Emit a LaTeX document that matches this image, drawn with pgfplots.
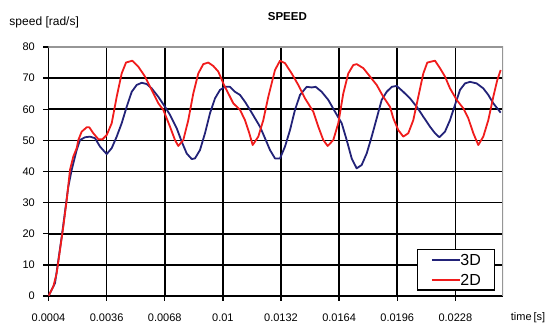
\documentclass[border=0pt]{standalone}
\usepackage{pgfplots}
\pgfplotsset{compat=1.18}
\usepackage{pgfplotstable}
\usepackage{fontspec}
\setmainfont{Liberation Sans}
\definecolor{series3d}{RGB}{34,34,120}
\definecolor{series2d}{RGB}{240,28,28}
\definecolor{framegray}{RGB}{150,150,150}

\pgfplotstableread{
t v
0.0004 0
0.000758 4.1
0.001127 19
0.00149 35.1
0.001677 40.5
0.001859 44.8
0.001953 46.9
0.002134 50.1
0.00241 51
0.002685 51.2
0.00296 50.7
0.003236 48
0.003604 45.6
0.00388 47.5
0.004155 51.2
0.00443 55.5
0.004706 60.8
0.004981 65.6
0.005256 67.8
0.005532 68.5
0.005807 68.1
0.006082 66.7
0.006446 64
0.006814 60.8
0.00709 58.2
0.007459 53.9
0.007734 49.6
0.008009 45.8
0.008285 44
0.008466 44.2
0.008742 46.9
0.009017 52.3
0.009292 58.7
0.009568 63.5
0.009843 66.2
0.010118 67.2
0.010393 67.2
0.010669 65.6
0.010944 64.6
0.011219 62.4
0.011495 59.8
0.01177 57.1
0.012045 54.4
0.01232 50.7
0.012596 46.9
0.012871 44.2
0.013146 44.2
0.013422 48
0.013697 53.3
0.013972 59.8
0.014248 64.6
0.014616 67.2
0.014892 67
0.015112 67.2
0.015442 65.6
0.015806 63
0.016175 59.2
0.016544 55.5
0.016819 50.1
0.017094 44.2
0.017369 41
0.017645 42.1
0.01792 45.8
0.018195 51.2
0.018471 57.1
0.018746 63
0.019021 65.6
0.019297 67.2
0.019572 67.5
0.019935 65.6
0.020304 63.5
0.020673 60.8
0.021037 57.6
0.021405 54.4
0.021681 52.3
0.021918 51
0.022231 52.8
0.022507 56.5
0.022782 61.4
0.023057 66.2
0.023332 68.3
0.023608 68.8
0.023977 68.3
0.02434 66.7
0.024616 64.6
0.024891 61.9
0.025298 58.9
}\threeD

\pgfplotstableread{
t v
0.0004 0
0.000664 3
0.000851 7.3
0.001033 14.8
0.001215 22.3
0.001402 30.8
0.001584 40.5
0.001765 44.8
0.001953 47.5
0.002041 50.1
0.002228 52.8
0.002503 54.2
0.002646 54.2
0.002867 52.3
0.003142 50.4
0.003362 50.3
0.003604 51.7
0.00388 55.5
0.004155 64
0.00443 71.5
0.004667 75
0.005014 75.6
0.005344 73.7
0.005713 70.5
0.006082 66.2
0.006446 61.9
0.006721 59.8
0.00709 54.4
0.007365 50.1
0.007547 48.2
0.007822 50.1
0.008097 56.5
0.008373 65.1
0.008648 71.5
0.008923 74.5
0.009199 75
0.009474 73.9
0.009749 72.1
0.010025 68.3
0.0103 65.1
0.010575 61.9
0.010944 59.8
0.011219 56.5
0.011456 52.3
0.011643 48.5
0.011952 51.2
0.012227 56.5
0.012502 64
0.012871 72.6
0.013146 75.6
0.013422 74.8
0.013791 71.5
0.014154 67.8
0.014523 63.5
0.01498 59.2
0.015255 54.4
0.015531 50.1
0.015773 48.2
0.016081 50.1
0.016356 55.5
0.016632 65.1
0.016907 71.5
0.017182 74.2
0.017369 74.5
0.017733 73.2
0.018102 70.5
0.018471 67.8
0.018834 64
0.019203 60.8
0.019385 57.1
0.01966 53.3
0.019935 51.2
0.020211 52.3
0.020486 56.5
0.020761 64
0.021037 71.5
0.021257 75
0.021681 75.6
0.021956 73.2
0.022231 70.5
0.022507 66.7
0.022875 63
0.023239 60.3
0.023514 57.1
0.02379 52.3
0.024065 48.5
0.02434 51.2
0.024616 56.5
0.024891 64
0.025111 69.4
0.025298 72.6
}\twoD

\begin{document}
\begin{tikzpicture}
\useasboundingbox (-48.5pt,-27pt) rectangle (503.5pt,296pt);
\begin{axis}[
  name=ax,
  at={(0pt,0pt)}, anchor=south west,
  scale only axis,
  width=454.5pt, height=249pt,
  xmin=0.0004, xmax=0.025425,
  ymin=0, ymax=80,
  axis x line*=bottom, axis y line*=left,
  x axis line style={-, black, line width=1.4pt},
  y axis line style={-, black, line width=1.4pt},
  xtick={0.0004,0.0036,0.0068,0.01,0.0132,0.0164,0.0196,0.0228},
  xticklabels={0.0004,0.0036,0.0068,0.01,0.0132,0.0164,0.0196,0.0228},
  scaled x ticks=false,
  ytick={0,10,...,80},
  tick align=outside,
  major tick length=5pt,
  tick style={black, line width=1.4pt},
  xmajorgrids, ymajorgrids,
  major grid style={black, line width=1.6pt},
  /pgf/number format/assume math mode=true,
  ticklabel style={font=\fontsize{11}{11}\selectfont, inner sep=0pt},
  xticklabel style={anchor=base, yshift=-20.2pt},
  yticklabel style={anchor=east, xshift=-8.5pt},
  legend style={at={(0.9824,0.0213)}, anchor=south east,
    draw=black, line width=1.3pt, fill=white,
    inner xsep=13.5pt, inner ysep=4.5pt, row sep=8.5pt,
    font=\fontsize{16}{16}\selectfont,
    nodes={inner sep=0pt, text height=11.5pt, text depth=0pt, anchor=west},
    /tikz/every even column/.append style={column sep=3.4pt}},
  legend cell align=left,
  legend image code/.code={\draw[#1] (0pt,0pt) -- (27.6pt,0pt);},
]
\addplot[series3d, line width=1.8pt, line join=round] table[x=t,y=v] {\threeD};
\addlegendentry{3D}
\addplot[series2d, line width=1.8pt, line join=round] table[x=t,y=v] {\twoD};
\addlegendentry{2D}
\draw[framegray, line width=2pt] (rel axis cs:0,1) -- (rel axis cs:1,1) -- (rel axis cs:1,0);
\end{axis}
\node[anchor=base west, inner sep=0pt, font=\fontsize{12}{12}\selectfont] at (-39.2pt,270pt) {speed [rad/s]};
\node[anchor=base west, inner sep=0pt, font=\bfseries\fontsize{11.5}{11.5}\selectfont] at (219.2pt,275.3pt) {SPEED};
\node[anchor=base west, inner sep=0pt, font=\fontsize{11}{11}\selectfont] at (462.2pt,-24.6pt) {time\,[s]};
\end{tikzpicture}
\end{document}
